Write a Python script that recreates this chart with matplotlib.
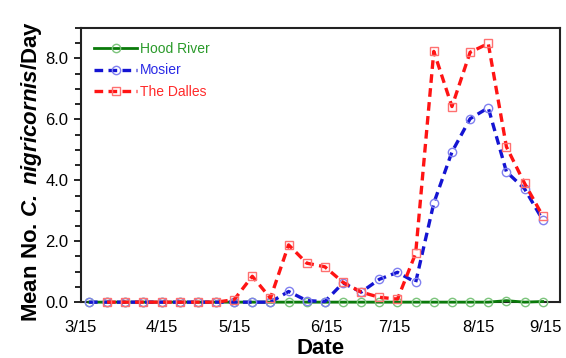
import matplotlib
matplotlib.use("Agg")
import matplotlib.pyplot as plt
from matplotlib.ticker import MultipleLocator, FormatStrFormatter
import numpy as np

plt.rcParams['font.family'] = ['Liberation Sans', 'DejaVu Sans']
plt.rcParams['mathtext.fontset'] = 'custom'
plt.rcParams['mathtext.rm'] = 'Liberation Sans'
plt.rcParams['mathtext.bf'] = 'Liberation Sans:bold'
plt.rcParams['mathtext.it'] = 'Liberation Sans:italic'
plt.rcParams['mathtext.bfit'] = 'Liberation Sans:italic:bold'

# sample index (roughly weekly samples, mid-March to mid-September)
week = list(range(26))
hood_river = [0, 0, 0, 0, 0, 0, 0, 0, 0, 0, 0, 0, 0, 0, 0, 0, 0, 0, 0, 0, 0, 0, 0, 0.05, 0, 0.02]
mosier = [0, 0, 0, 0, 0, 0, 0, 0, 0, 0, 0, 0.35, 0.05, 0.02, 0.63, 0.33, 0.75, 0.98, 0.65,
          3.25, 4.93, 6.02, 6.38, 4.28, 3.72, 2.70]
the_dalles = [np.nan, 0, 0, 0, 0, 0, 0, 0, 0.08, 0.85, 0.13, 1.88, 1.28, 1.16, 0.65, 0.33, 0.16, 0.10,
              1.60, 8.23, 6.42, 8.20, 8.49, 5.10, 3.90, 2.83]

tick_pos = [-0.44, 4.02, 8.04, 13.1, 16.8, 21.48, 25.17]
tick_labels = ['3/15', '4/15', '5/15', '6/15', '7/15', '8/15', '9/15']

fig = plt.figure(figsize=(5.66, 3.58), dpi=100)
ax = fig.add_axes([0.143, 0.156, 0.846, 0.766])

ax.plot(week, hood_river, color='#0a7a0a', lw=2.0, marker='o', ms=6,
        mfc='none', mec='#7cc47c', mew=1.0, label='Hood River', clip_on=False, zorder=3)
ax.plot(week, mosier, color='#1414d2', lw=2.4, dashes=(2.6, 1.6), marker='o', ms=6,
        mfc='none', mec='#8080f0', mew=1.0, label='Mosier', clip_on=False, zorder=4)
ax.plot(week, the_dalles, color='#ff1414', lw=2.4, dashes=(2.6, 1.6), marker='s', ms=6,
        mfc='none', mec='#ff7070', mew=1.0, label='The Dalles', clip_on=False, zorder=5)

ax.set_xlim(-0.44, 25.94)
ax.set_ylim(0, 9.0)
ax.set_xticks(tick_pos)
ax.set_xticklabels(tick_labels)
ax.tick_params(axis='x', length=0, pad=13, labelsize=12)
ax.yaxis.set_major_locator(MultipleLocator(2))
ax.yaxis.set_minor_locator(MultipleLocator(0.5))
ax.yaxis.set_major_formatter(FormatStrFormatter('%.1f'))
ax.tick_params(axis='y', which='major', length=5, width=1.2, direction='out', pad=4, labelsize=12)
ax.tick_params(axis='y', which='minor', length=4, width=1.2, direction='out')

for s in ax.spines.values():
    s.set_linewidth(1.5)
    s.set_color('#222222')

ax.set_xlabel('Date', fontsize=16, fontweight='bold', labelpad=2)
ax.set_ylabel(r'Mean No. $\mathbfit{C.\ nigricornis}$/Day', fontsize=16, fontweight='bold')
ax.yaxis.set_label_coords(-0.078, 0.475)

leg = ax.legend(loc='upper left', bbox_to_anchor=(0.01, 0.98), frameon=False, fontsize=10,
                handlelength=3.1, handletextpad=0.2, labelspacing=0.55, borderaxespad=0.2,
                numpoints=1)
for txt, c in zip(leg.get_texts(), ['#2a9a2a', '#2a2ae6', '#ff2a2a']):
    txt.set_color(c)

fig.savefig('out.png', dpi=100)
